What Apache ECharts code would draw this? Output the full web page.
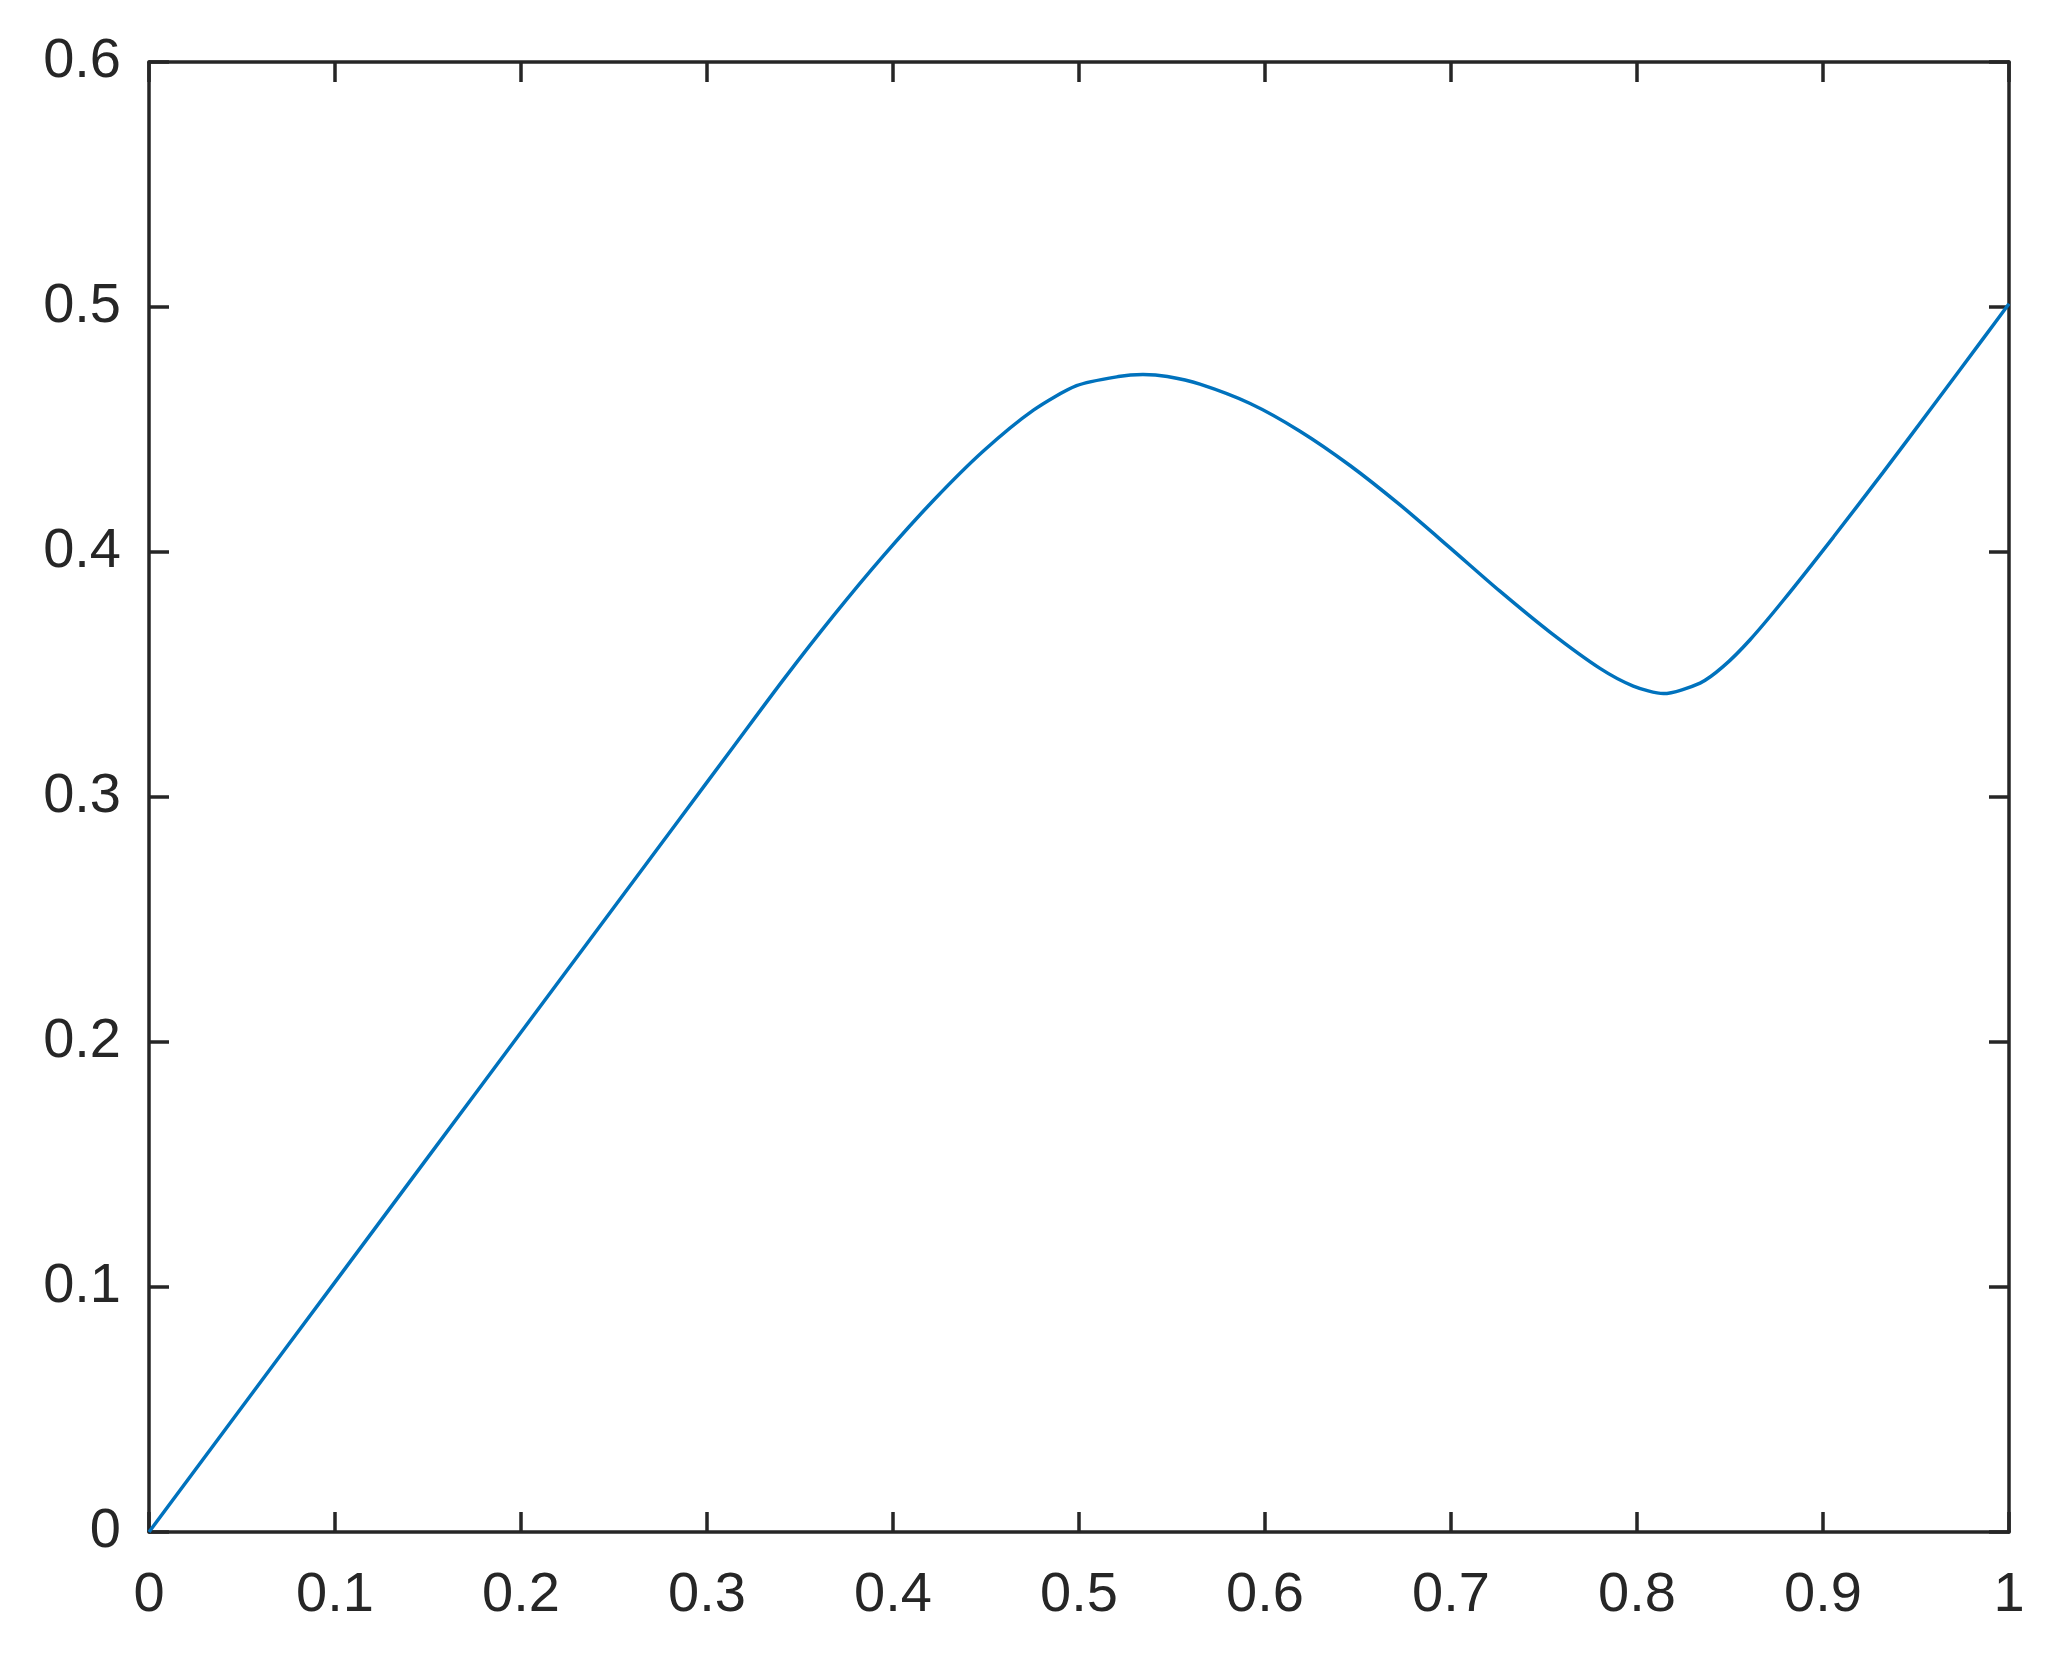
<!DOCTYPE html>
<html>
<head>
<meta charset="utf-8">
<script src="https://cdn.jsdelivr.net/npm/echarts@6/dist/echarts.min.js"></script>
<style>
    html, body { margin: 0; padding: 0; background: #fff; }
    #main { width: 2064px; height: 1672px; }
</style>
</head>
<body>
<div id="main"></div>
<script>
// curve
const xs = [0, 0.05, 0.10, 0.15, 0.20, 0.25, 0.2846, 0.3141, 0.3410, 0.3679, 0.3948, 0.4217,
    0.4486, 0.4755, 0.4987, 0.5212, 0.5344, 0.5475, 0.565, 0.592, 0.6188, 0.6457, 0.6726, 0.6995,
    0.7263, 0.7532, 0.7801, 0.798, 0.8142, 0.8339, 0.8464, 0.8608, 0.8787, 0.9056, 0.9324,
    0.9593, 0.9862, 1.0];
const ys = [0, 0.051, 0.102, 0.153, 0.204, 0.255, 0.2903, 0.3204, 0.3478, 0.3739, 0.3984, 0.4210,
    0.4412, 0.4579, 0.4679, 0.4716, 0.4724, 0.4716, 0.4685, 0.4606, 0.4493, 0.4353, 0.4192, 0.4017,
    0.3840, 0.3673, 0.3525, 0.3453, 0.3422, 0.3465, 0.3533, 0.3642, 0.3803, 0.4061, 0.4326,
    0.4598, 0.4872, 0.5013];
const xTicks = ['0', '0.1', '0.2', '0.3', '0.4', '0.5', '0.6', '0.7', '0.8', '0.9', '1'];
const yTicks = ['0', '0.1', '0.2', '0.3', '0.4', '0.5', '0.6'];

window.addEventListener("load", function () {
    let chart = echarts.init(document.getElementById('main'));
    let ink = '#262626';
    let font = 'Liberation Sans';

    let data = xs.map(function (x, i) { return [x, ys[i]]; });

    function xAxisOf(pos, show) {
        return {
            type: 'value', position: pos, min: 0, max: 1, interval: 0.1,
            axisLine: { show: true, onZero: false, lineStyle: { color: ink, width: 3.5 } },
            axisTick: { show: true, inside: true, length: 20, lineStyle: { color: ink, width: 3.5 } },
            axisLabel: {
                show: show, color: ink, fontFamily: font, fontSize: 56, margin: 64,
                verticalAlign: 'middle',
                formatter: function (v) { return xTicks[Math.round(v * 10)]; }
            },
            splitLine: { show: false }
        };
    }
    function yAxisOf(pos, show) {
        return {
            type: 'value', position: pos, min: 0, max: 0.6, interval: 0.1,
            axisLine: { show: true, onZero: false, lineStyle: { color: ink, width: 3.5 } },
            axisTick: { show: true, inside: true, length: 20, lineStyle: { color: ink, width: 3.5 } },
            axisLabel: {
                show: show, color: ink, fontFamily: font, fontSize: 56, margin: 28,
                formatter: function (v) { return yTicks[Math.round(v * 10)]; }
            },
            splitLine: { show: false }
        };
    }

    let option = {
        animation: false,
        backgroundColor: '#ffffff',
        grid: { left: 149, top: 62, right: 55, bottom: 140, containLabel: false },
        xAxis: [xAxisOf('bottom', true), xAxisOf('top', false)],
        yAxis: [yAxisOf('left', true), yAxisOf('right', false)],
        series: [{
            type: 'line',
            xAxisIndex: 0,
            yAxisIndex: 0,
            data: data,
            smooth: 0.25,
            showSymbol: false,
            lineStyle: { color: '#0072BD', width: 3.5 }
        }]
    };
    chart.setOption(option);
}, false);
</script>
</body>
</html>
